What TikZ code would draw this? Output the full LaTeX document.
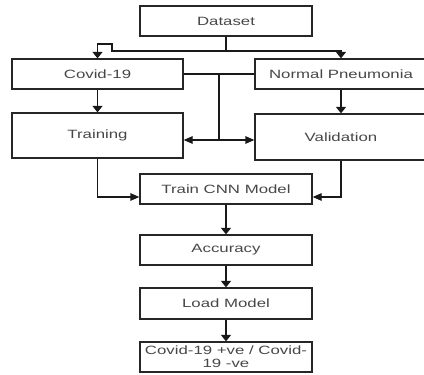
\documentclass[tikz,border=0pt]{standalone}
\usepackage{fontspec}
\setmainfont{Liberation Sans}
\usetikzlibrary{arrows.meta}
\newcommand{\sx}[1]{\scalebox{1.4}[1]{#1}}
\begin{document}
\begin{tikzpicture}[x=1pt,y=-1pt,
  box/.style={draw=black!85,line width=1.3pt,rectangle,inner sep=0pt,
    minimum width=172pt,minimum height=30pt,text=black!72,
    font=\fontsize{12}{13}\selectfont,align=center},
  conn/.style={draw=black!90,line width=1.3pt},
  varr/.style={conn,-{Triangle[width=10pt,length=6.5pt]}},
  harr/.style={conn,-{Triangle[width=7.5pt,length=9pt]}}]
\clip (0,0) rectangle (424,375);
\fill[white] (0,0) rectangle (424,375);
\node[box] (ds) at (226,21) {\sx{Dataset}};
\node[box,minimum width=171pt] (cv) at (97.5,74) {\sx{Covid-19}};
\node[box] (np) at (341,74) {\sx{Normal Pneumonia}};
\node[box,minimum width=171pt,minimum height=45pt] (tr) at (97.5,135.5) {\sx{Training}};
\node[box,minimum height=46pt] (va) at (341,137) {\sx{Validation}};
\node[box] (cnn) at (226,189) {\sx{Train CNN Model}};
\node[box] (acc) at (226,250) {\sx{Accuracy}};
\node[box,minimum height=31pt] (lm) at (226,303.5) {\sx{Load Model}};
\node[box] (out) at (226,357) {\sx{Covid-19 +ve / Covid-}\\\sx{19 -ve}};
\coordinate (j1) at (226,51);
\coordinate (j2) at (112,51);
\coordinate (j3) at (112,44);
\coordinate (j4) at (97.5,44);
\coordinate (mt) at (219,74);
\coordinate (m) at (219,140);
\coordinate (k) at (226,197);
\draw[varr] (ds.south) -- (j1) -- (j2) -- (j3) -- (j4) -- (cv.north);
\draw[varr] (j1) -| (np.north);
\draw[conn] (cv.east) -- (np.west);
\draw[conn] (mt) -- (m);
\draw[harr] (m) -- (m -| tr.east);
\draw[harr] (m) -- (m -| va.west);
\draw[varr] (cv.south) -- (tr.north);
\draw[varr] (np.south) -- (va.north);
\draw[harr] (tr.south) |- (k -| cnn.west);
\draw[harr] (va.south) |- (k -| cnn.east);
\draw[varr] (cnn.south) -- (acc.north);
\draw[varr] (acc.south) -- (lm.north);
\draw[varr] (lm.south) -- (out.north);
\end{tikzpicture}
\end{document}
